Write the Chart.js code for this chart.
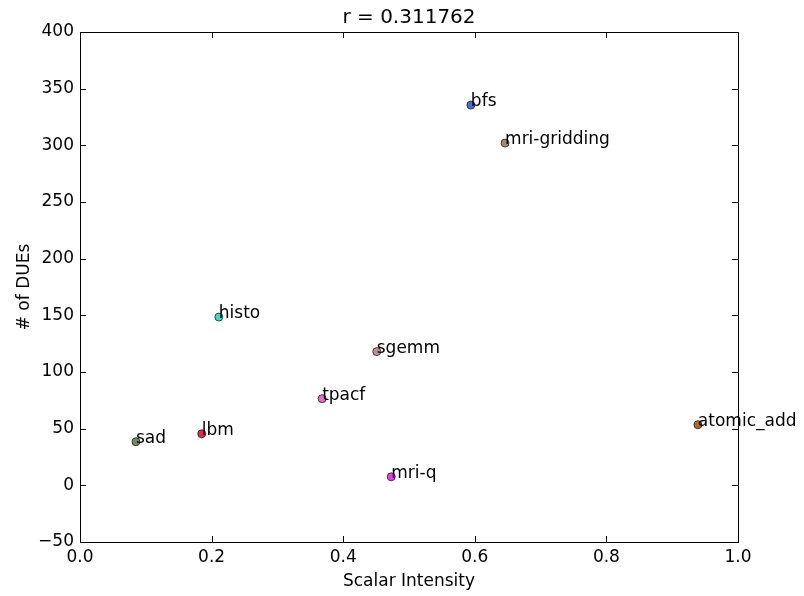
<!DOCTYPE html>
<html>
<head>
<meta charset="utf-8">
<script src="https://cdn.jsdelivr.net/npm/chart.js@4/dist/chart.umd.min.js"></script>
<style>
  html, body { margin: 0; padding: 0; background: #fff; }
  #wrap { width: 804px; height: 596px; }
</style>
</head>
<body>
<div id="wrap"><canvas id="scatterChart"></canvas></div>
<script>
// benchmark names and values
var benchNames = ['bfs', 'mri-gridding', 'histo', 'sgemm', 'tpacf', 'atomic_add', 'lbm', 'sad', 'mri-q'];
var scalarIntensity = [0.594, 0.646, 0.211, 0.451, 0.368, 0.939, 0.185, 0.085, 0.473];
var dueCounts = [335.5, 302, 148.5, 118, 76.5, 53.5, 45.5, 38.5, 7.5];
var pointColors = ['#4a6ed0', '#a08c6c', '#3cd8bc', '#c09090', '#e070c0', '#b06a30', '#e0284a', '#6f8a60', '#e040e8'];

var xTicks = [0, 0.2, 0.4, 0.6, 0.8, 1.0];
var yTicks = [-50, 0, 50, 100, 150, 200, 250, 300, 350, 400];
var titleText = 'r = 0.311762';

var FONT = 'DejaVu Sans';

var points = [];
for (var i = 0; i < benchNames.length; i++) {
	points.push({ x: scalarIntensity[i], y: dueCounts[i] });
}

// names next to each point (text starts at the point, baseline on it)
var pointLabels = {
	id: 'pointLabels',
	afterDatasetsDraw: function (chart) {
		var ctx = chart.ctx;
		var meta = chart.getDatasetMeta(0);
		ctx.save();
		ctx.font = '17px "' + FONT + '"';
		ctx.fillStyle = '#000';
		ctx.textAlign = 'left';
		ctx.textBaseline = 'alphabetic';
		meta.data.forEach(function (el, idx) {
			ctx.fillText(benchNames[idx], el.x, el.y + 1);
		});
		ctx.restore();
	}
};

// box around the plot + inward ticks on all four sides (classic matplotlib look)
var frameTicks = {
	id: 'frameTicks',
	afterDraw: function (chart) {
		var ctx = chart.ctx;
		var a = chart.chartArea;
		var xs = chart.scales.x, ys = chart.scales.y;
		var len = 6;
		ctx.save();
		ctx.strokeStyle = '#000';
		ctx.lineWidth = 1;
		ctx.beginPath();
		xTicks.forEach(function (v) {
			var px = Math.round(xs.getPixelForValue(v)) + 0.5;
			ctx.moveTo(px, a.bottom); ctx.lineTo(px, a.bottom - len);
			ctx.moveTo(px, a.top); ctx.lineTo(px, a.top + len);
		});
		yTicks.forEach(function (v) {
			var py = Math.round(ys.getPixelForValue(v)) + 0.5;
			ctx.moveTo(a.left, py); ctx.lineTo(a.left + len, py);
			ctx.moveTo(a.right, py); ctx.lineTo(a.right - len, py);
		});
		ctx.stroke();
		ctx.strokeRect(Math.round(a.left) + 0.5, Math.round(a.top) + 0.5,
			Math.round(a.right - a.left), Math.round(a.bottom - a.top));
		ctx.restore();
	}
};

var ctx = document.getElementById('scatterChart').getContext('2d');
var chart = new Chart(ctx, {
	type: 'scatter',
	data: {
		datasets: [{
			data: points,
			backgroundColor: pointColors,
			borderColor: '#222',
			borderWidth: 0.8,
			pointRadius: 4,
			pointHoverRadius: 4
		}]
	},
	options: {
		responsive: true,
		maintainAspectRatio: false,
		animation: false,
		layout: { padding: { left: 0, right: 66, top: 0, bottom: 0 } },
		plugins: {
			legend: { display: false },
			tooltip: { enabled: false },
			title: {
				display: true,
				text: titleText,
				color: '#000',
				font: { family: FONT, size: 20, weight: 'normal' },
				padding: { top: 6, bottom: 2 },
				fullSize: false
			}
		},
		scales: {
			x: {
				type: 'linear',
				min: 0,
				max: 1,
				afterBuildTicks: function (scale) {
					scale.ticks = xTicks.map(function (v) { return { value: v }; });
				},
				afterFit: function (scale) { scale.height = 54; },
				grid: { display: false, drawTicks: false },
				border: { display: false },
				ticks: {
					color: '#000',
					padding: 5,
					maxRotation: 0,
					font: { family: FONT, size: 17 },
					callback: function (v) { return Number(v).toFixed(1); }
				},
				title: {
					display: true,
					text: 'Scalar Intensity',
					color: '#000',
					font: { family: FONT, size: 17 },
					padding: { top: 0, bottom: 4 }
				}
			},
			y: {
				type: 'linear',
				min: -50,
				max: 400,
				afterBuildTicks: function (scale) {
					scale.ticks = yTicks.map(function (v) { return { value: v }; });
				},
				afterFit: function (scale) { scale.width = 80; },
				grid: { display: false, drawTicks: false },
				border: { display: false },
				ticks: {
					color: '#000',
					padding: 6,
					font: { family: FONT, size: 17 },
					callback: function (v) { return String(v).replace('-', '\u2212'); }
				},
				title: {
					display: true,
					text: '# of DUEs',
					color: '#000',
					font: { family: FONT, size: 17 },
					padding: { top: 14, bottom: 0 }
				}
			}
		}
	},
	plugins: [pointLabels, frameTicks]
});
</script>
</body>
</html>
